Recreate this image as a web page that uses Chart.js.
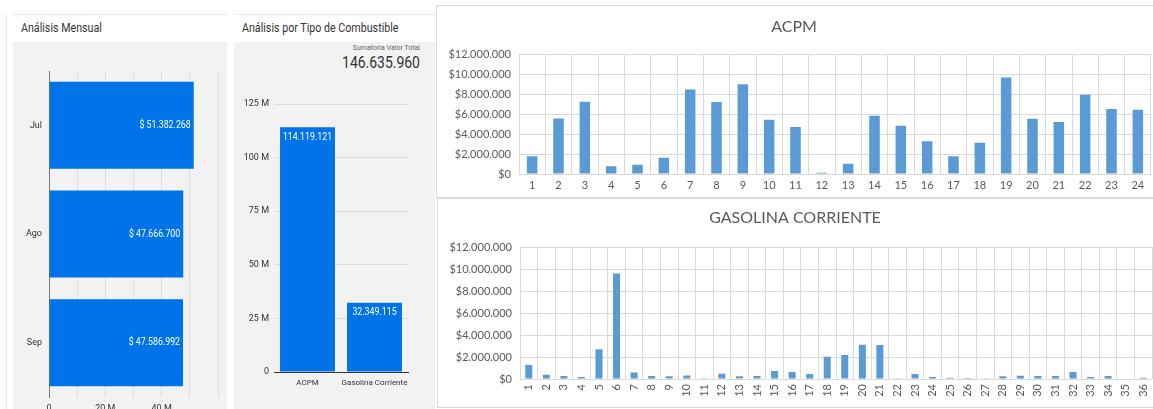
<!DOCTYPE html>
<html>
<head>
<meta charset="utf-8">
<script src="https://cdn.jsdelivr.net/npm/chart.js@4.4.1/dist/chart.umd.min.js"></script>
<style>
  body { margin: 0; width: 1153px; height: 409px; overflow: hidden; background: #fff; position: relative; }
  .abs { position: absolute; }
  .ds { font-family: Roboto, sans-serif; }
  .head { background: #fff; border-top: 1px solid #e8e8e8; height: 27px; line-height: 27px; font-size: 12px; color: #333; padding-left: 8px; box-sizing: border-box; white-space: nowrap; }
  .narrow { display: inline-block; transform: scaleX(0.89); transform-origin: left center; }
  .narrowR { display: inline-block; transform: scaleX(0.82); transform-origin: right center; }
  .body { background: #f2f2f2; }
  .card { background: #fff; border: 1px solid #d9d9d9; box-sizing: border-box; }
  canvas { position: absolute; }
</style>
</head>
<body>
<div class="abs" style="left:6px;top:14px;width:1px;height:395px;background:#e8e8e8"></div>

<div class="abs head ds" style="left:13px;top:14px;width:214px;height:28px"><span class="narrow">Análisis Mensual</span></div>
<div class="abs body" style="left:13px;top:42px;width:214px;height:367px"></div>

<div class="abs head ds" style="left:234px;top:14px;width:201px;height:28px"><span class="narrow">Análisis por Tipo de Combustible</span></div>
<div class="abs body" style="left:234px;top:42px;width:201px;height:367px"></div>
<div class="abs ds" style="left:234px;top:44px;width:186px;text-align:right;font-size:7px;line-height:9px;color:#666">Sumatoria Valor Total</div>
<div class="abs ds" style="left:234px;top:53px;width:186px;text-align:right;font-size:17px;line-height:18px;color:#333"><span class="narrowR">146.635.960</span></div>

<div class="abs card" style="left:436px;top:5px;width:730px;height:193px"></div>
<div class="abs card" style="left:437px;top:198px;width:729px;height:210px"></div>

<canvas id="monthChart" width="214" height="380" style="left:13px;top:42px"></canvas>
<canvas id="fuelChart" width="201" height="367" style="left:234px;top:42px"></canvas>
<canvas id="acpmChart" width="728" height="190" style="left:437px;top:6px"></canvas>
<canvas id="gasChart" width="728" height="208" style="left:438px;top:199px"></canvas>

<script>
const months = ['Jul', 'Ago', 'Sep'];
const monthTotals = [51382268, 47666700, 47586992];

const fuelTypes = ['ACPM', 'Gasolina Corriente'];
const fuelTotals = [114119121, 32349115];

const acpmDays = ['1', '2', '3', '4', '5', '6', '7', '8', '9', '10', '11', '12',
  '13', '14', '15', '16', '17', '18', '19', '20', '21', '22', '23', '24'];
const acpmValues = [1770000, 5570000, 7230000, 770000, 930000, 1630000, 8470000, 7200000,
  9000000, 5430000, 4700000, 130000, 1030000, 5830000, 4830000, 3270000,
  1770000, 3130000, 9670000, 5530000, 5200000, 7930000, 6500000, 6430000];

const gasDays = ['1', '2', '3', '4', '5', '6', '7', '8', '9', '10', '11', '12',
  '13', '14', '15', '16', '17', '18', '19', '20', '21', '22', '23', '24',
  '25', '26', '27', '28', '29', '30', '31', '32', '33', '34', '35', '36'];
const gasValues = [1270000, 390000, 270000, 180000, 2700000, 9600000, 600000, 270000,
  240000, 330000, 30000, 480000, 240000, 270000, 730000, 640000,
  450000, 2030000, 2180000, 3120000, 3090000, 20000, 450000, 180000,
  120000, 90000, 60000, 240000, 300000, 270000, 270000, 640000,
  180000, 270000, 50000, 120000];

const dsFont = 'Roboto, sans-serif';
const xlFont = 'Lato, Carlito, Calibri, sans-serif';

function dots(n) {
  return Math.round(n).toString().replace(/\B(?=(\d{3})+(?!\d))/g, '.');
}

// writes the value inside each bar, like Data Studio does (narrow text)
const valueLabels = {
  id: 'valueLabels',
  afterDatasetsDraw(chart, args, opts) {
    if (!opts.show) return;
    const ctx = chart.ctx;
    chart.getDatasetMeta(0).data.forEach((bar, i) => {
      const txt = opts.prefix + dots(chart.data.datasets[0].data[i]);
      ctx.save();
      ctx.fillStyle = '#fff';
      ctx.font = opts.font;
      if (chart.options.indexAxis === 'y') {
        ctx.translate(bar.x - 3, bar.y);
        ctx.textAlign = 'right';
        ctx.textBaseline = 'middle';
      } else {
        ctx.translate(bar.x, bar.y + 4);
        ctx.textAlign = 'center';
        ctx.textBaseline = 'top';
      }
      ctx.scale(0.8, 1);
      ctx.fillText(txt, 0, 0);
      ctx.restore();
    });
  }
};
Chart.register(valueLabels);

new Chart(document.getElementById('monthChart'), {
  type: 'bar',
  data: {
    labels: months,
    datasets: [{ data: monthTotals, backgroundColor: '#0073e8', barPercentage: 0.8, categoryPercentage: 1 }]
  },
  options: {
    indexAxis: 'y',
    responsive: false,
    animation: false,
    devicePixelRatio: 1,
    layout: { padding: { top: 29, right: 9 } },
    plugins: {
      legend: { display: false },
      tooltip: { enabled: false },
      valueLabels: { show: true, prefix: '$ ', font: '11px ' + dsFont }
    },
    scales: {
      x: {
        min: 0,
        max: 60000000,
        ticks: {
          stepSize: 10000000,
          callback: v => (v === 0 ? '0' : (v === 20000000 || v === 40000000) ? v / 1000000 + ' M' : ''),
          font: { family: dsFont, size: 9 },
          color: '#333',
          padding: 6
        },
        grid: { color: '#dcdcdc', drawTicks: false },
        border: { display: false },
        afterFit: s => { s.height = 25; }
      },
      y: {
        ticks: { font: { family: dsFont, size: 9 }, color: '#333', padding: 7 },
        grid: { display: false, drawTicks: false },
        border: { color: '#777', width: 1 },
        afterFit: s => { s.width = 36; }
      }
    }
  }
});

new Chart(document.getElementById('fuelChart'), {
  type: 'bar',
  data: {
    labels: fuelTypes,
    datasets: [{ data: fuelTotals, backgroundColor: '#0073e8', barPercentage: 0.82, categoryPercentage: 1 }]
  },
  options: {
    responsive: false,
    animation: false,
    devicePixelRatio: 1,
    layout: { padding: { top: 62, right: 27 } },
    plugins: {
      legend: { display: false },
      tooltip: { enabled: false },
      valueLabels: { show: true, prefix: '', font: '11px ' + dsFont }
    },
    scales: {
      y: {
        min: 0,
        max: 125000000,
        ticks: {
          stepSize: 25000000,
          callback: v => v === 0 ? '0' : v / 1000000 + ' M',
          font: { family: dsFont, size: 9 },
          color: '#333',
          padding: 5
        },
        grid: { color: '#dcdcdc', drawTicks: false },
        border: { display: false },
        afterFit: s => { s.width = 40; }
      },
      x: {
        ticks: { font: { family: dsFont, size: 8 }, color: '#333', padding: 6, autoSkip: false, maxRotation: 0 },
        grid: { display: false, drawTicks: false },
        border: { color: '#333', width: 1 },
        afterFit: s => { s.height = 37; }
      }
    }
  }
});

function excelChart(id, title, labels, values, rotate, titlePad, xHeight) {
  return new Chart(document.getElementById(id), {
    type: 'bar',
    data: {
      labels: labels,
      datasets: [{ data: values, backgroundColor: '#5b9bd5', barPercentage: 0.4, categoryPercentage: 1 }]
    },
    options: {
      responsive: false,
      animation: false,
      devicePixelRatio: 1,
      layout: { padding: { right: 14 } },
      plugins: {
        legend: { display: false },
        tooltip: { enabled: false },
        title: {
          display: true,
          text: title,
          color: '#595959',
          font: { family: xlFont, size: 16, weight: 'normal' },
          padding: titlePad
        }
      },
      scales: {
        y: {
          min: 0,
          max: 12000000,
          ticks: {
            stepSize: 2000000,
            callback: v => '$' + dots(v),
            font: { family: xlFont, size: 11 },
            color: '#595959',
            padding: 8
          },
          grid: { color: '#d9d9d9', drawTicks: false },
          border: { display: false },
          afterFit: s => { s.width = 82; }
        },
        x: {
          ticks: {
            font: { family: xlFont, size: 11 },
            color: '#595959',
            padding: 5,
            autoSkip: false,
            minRotation: rotate,
            maxRotation: rotate
          },
          grid: { color: '#d9d9d9', drawTicks: false },
          border: { display: false },
          afterFit: s => { s.height = xHeight; }
        }
      }
    }
  });
}

excelChart('acpmChart', 'ACPM', acpmDays, acpmValues, 0, { top: 11, bottom: 18 }, 22);
excelChart('gasChart', 'GASOLINA CORRIENTE', gasDays, gasValues, 90, { top: 9, bottom: 20 }, 28);
</script>
</body>
</html>
